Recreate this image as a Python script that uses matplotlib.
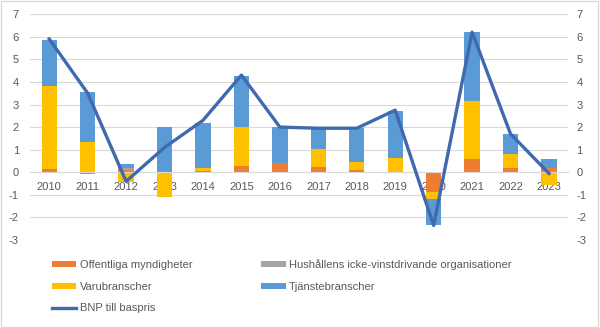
import matplotlib.pyplot as plt
import numpy as np
from matplotlib.patches import Rectangle

plt.rcParams['font.family'] = ['Liberation Sans', 'DejaVu Sans']
plt.rcParams['axes.unicode_minus'] = False

years = [str(y) for y in range(2010, 2024)]
offentliga = [0.15, -0.08, 0.1, 0.03, 0.05, 0.3, 0.4, 0.25, 0.1, 0.02, -0.85, 0.6, 0.2, 0.2]
hushallens = [0.0, 0.0, 0.1, 0.0, 0.0, 0.0, 0.0, 0.0, 0.0, 0.0, 0.0, 0.0, 0.0, 0.0]
varu = [3.65, 1.35, -0.45, -1.1, 0.15, 1.7, -0.02, 0.8, 0.35, 0.63, -0.35, 2.55, 0.6, -0.55]
tjanste = [2.05, 2.2, 0.15, 1.97, 2.0, 2.25, 1.6, 0.9, 1.5, 2.05, -1.15, 3.05, 0.9, 0.4]
bnp = [5.9, 3.5, -0.4, 1.1, 2.3, 4.3, 2.0, 1.95, 1.95, 2.75, -2.35, 6.2, 1.7, -0.05]

series = [
    ('Offentliga myndigheter', offentliga, '#ED7D31'),
    ('Hushållens icke-vinstdrivande organisationer', hushallens, '#A5A5A5'),
    ('Varubranscher', varu, '#FFC000'),
    ('Tjänstebranscher', tjanste, '#5B9BD5'),
]

fig = plt.figure(figsize=(6, 3.28), dpi=100)
ax = fig.add_axes([0.05, 0.268, 0.897, 0.689])
x = np.arange(len(years))

# Excel-style stacking: positives and negatives stack separately
pos_base = np.zeros(len(years))
neg_base = np.zeros(len(years))
handles = {}
for name, vals, col in series:
    v = np.array(vals)
    base = np.where(v >= 0, pos_base, neg_base)
    handles[name] = ax.bar(x, v, 0.4, bottom=base, color=col, label=name, zorder=2)
    pos_base = pos_base + np.where(v >= 0, v, 0)
    neg_base = neg_base + np.where(v < 0, v, 0)

line, = ax.plot(x, bnp, color='#4169B0', lw=2.4, label='BNP till baspris', zorder=3)

ax.set_ylim(-3, 7)
ax.set_xlim(-0.5, len(years) - 0.5)
ax.set_yticks(range(-3, 8))
ax.yaxis.grid(True, color='#D9D9D9', lw=0.8, zorder=0)
ax.set_axisbelow(True)
for s in ['top', 'left', 'right']:
    ax.spines[s].set_visible(False)
ax.spines['bottom'].set_position(('data', 0))
ax.spines['bottom'].set_color('#D9D9D9')
ax.set_xticks(x)
ax.set_xticklabels(years)
ax.tick_params(axis='x', length=0, pad=7, labelsize=8, labelcolor='#595959')
ax.tick_params(axis='y', length=0, labelsize=8, labelcolor='#595959', pad=8)

ax2 = ax.twinx()
ax2.set_ylim(-3, 7)
ax2.set_yticks(range(-3, 8))
for s in ax2.spines.values():
    s.set_visible(False)
ax2.tick_params(axis='y', length=0, labelsize=8, labelcolor='#595959', pad=6)

leg_handles = [handles['Offentliga myndigheter'], handles['Varubranscher'], line,
               handles['Hushållens icke-vinstdrivande organisationer'], handles['Tjänstebranscher']]
leg_labels = [h.get_label() for h in leg_handles]
fig.legend(leg_handles, leg_labels, ncol=2, loc='upper left', bbox_to_anchor=(0.07, 0.24),
           frameon=False, fontsize=8, labelcolor='#595959', handlelength=2.2, handleheight=0.5,
           handletextpad=0.3, columnspacing=6.2, labelspacing=1.05)

fig.patches.append(Rectangle((0.002, 0.003), 0.995, 0.994, transform=fig.transFigure,
                             fill=False, edgecolor='#D9D9D9', lw=1))

fig.savefig('out.png', dpi=100)
